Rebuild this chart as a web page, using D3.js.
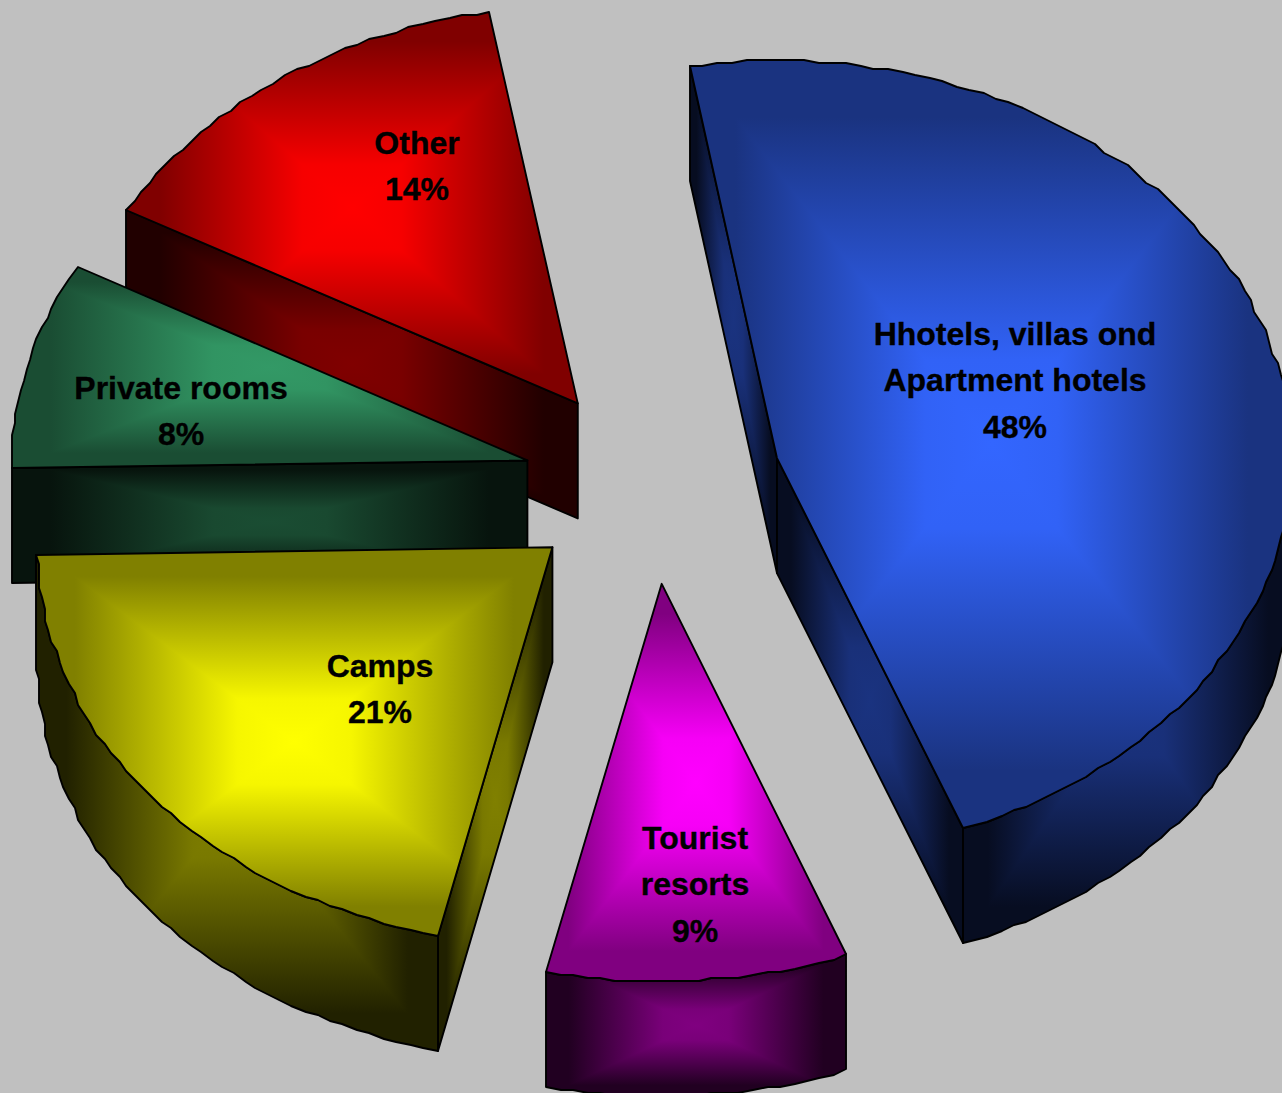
<!DOCTYPE html>
<html>
<head>
<meta charset="utf-8">
<script src="https://cdnjs.cloudflare.com/ajax/libs/d3/7.8.5/d3.min.js"></script>
<style>
  html, body { margin: 0; padding: 0; background: #c0c0c0; overflow: hidden; }
  svg { display: block; }
  text { font-family: "Liberation Sans", Arial, sans-serif; font-weight: bold; font-size: 32px; fill: #000; stroke: #000; stroke-width: 0.35px; text-anchor: middle; }
</style>
</head>
<body>
<script>
// Chart data
var sliceNames = [["Hhotels, villas ond", "Apartment hotels"], ["Tourist", "resorts"], ["Camps"], ["Private rooms"], ["Other"]];
var slicePercents = [48, 9, 21, 8, 14];
// the drawn wedges are not quite the printed percents, so the sweep is measured in degrees
var sliceSweeps = [168.8, 33.9, 76.1, 29.9, 51.3];
var sliceColors = ["#3366ff", "#ff00ff", "#ffff00", "#339966", "#ff0000"];

// Define SVG area dimensions
var svgWidth = 1282;
var svgHeight = 1093;

// Pie geometry
var center = { x: 652.6, y: 484.5 };
var radiusX = 515;
var radiusY = 397.5;
var depth = 115;
var explode = 129;
var startDeg = -9.8;
var jag = 3; // the original outline is snapped to a coarse pixel grid

// Label centres and first baselines
var labelSpots = [[1015, 345], [695, 849], [380, 677], [181, 399], [417, 154]];
var lineStep = 46.3;

// back to front
var drawOrder = [0, 1, 4, 3, 2];

var svg = d3.select("body")
  .append("svg")
  .attr("width", svgWidth)
  .attr("height", svgHeight);

svg.append("rect")
  .attr("width", svgWidth)
  .attr("height", svgHeight)
  .attr("fill", "#c0c0c0");

var defs = svg.append("defs");

var pie = d3.pie()
  .sort(null)
  .startAngle(startDeg * Math.PI / 180)
  .endAngle((startDeg + 360) * Math.PI / 180)
  .value(d => d);

var slices = pie(sliceSweeps);

var xScale = d3.scaleLinear().domain([-1, 1]).range([-radiusX, radiusX]);
var yScale = d3.scaleLinear().domain([-1, 1]).range([-radiusY, radiusY]);

var line = d3.line();

function apexOf(s) {
  var mid = (s.startAngle + s.endAngle) / 2;
  return [
    center.x + xScale(Math.sin(mid)) * explode / radiusX,
    center.y + yScale(-Math.cos(mid)) * explode / radiusX
  ];
}

function snap(p) {
  return [Math.round(p[0] / jag) * jag, Math.round(p[1] / jag) * jag];
}

// angles along the rim of a slice
function rimAngles(s) {
  var n = Math.max(2, Math.ceil((s.endAngle - s.startAngle) / (1.6 * Math.PI / 180)));
  return d3.range(n + 1).map(i => s.startAngle + (s.endAngle - s.startAngle) * i / n);
}

function rimPoint(apex, a) {
  return snap([apex[0] + xScale(Math.sin(a)), apex[1] + yScale(-Math.cos(a))]);
}

function down(pts) {
  return pts.map(p => [p[0], p[1] + depth]);
}

var gradId = 0;

// the ramp has a soft peak at the middle and stays flat near the box edge
function addGradient(id, from, to, inner, outer) {
  var grad = defs.append("linearGradient")
    .attr("id", id)
    .attr("gradientUnits", "userSpaceOnUse")
    .attr("x1", from[0]).attr("y1", from[1])
    .attr("x2", to[0]).attr("y2", to[1]);
  grad.append("stop").attr("offset", 0).attr("stop-color", inner);
  grad.append("stop").attr("offset", 0.22).attr("stop-color", d3.interpolateRgb(inner, outer)(0.07));
  grad.append("stop").attr("offset", 0.85).attr("stop-color", outer);
}

// Rectangular "path" gradient: bright at the middle of the face's box, dark at the box edges.
// A vertical gradient fills the whole box, then the left and right wedges go over it.
function face(group, pts, inner, outer) {
  var x0 = d3.min(pts, p => p[0]), x1 = d3.max(pts, p => p[0]);
  var y0 = d3.min(pts, p => p[1]), y1 = d3.max(pts, p => p[1]);
  var cx = (x0 + x1) / 2, cy = (y0 + y1) / 2;
  var id = "f" + (gradId++);

  defs.append("clipPath").attr("id", id + "c")
    .append("path").attr("d", line(pts) + "Z");

  addGradient(id + "t", [cx, cy], [cx, y0], inner, outer);
  addGradient(id + "b", [cx, cy], [cx, y1], inner, outer);
  addGradient(id + "r", [cx, cy], [x1, cy], inner, outer);
  addGradient(id + "l", [cx, cy], [x0, cy], inner, outer);

  var g = group.append("g").attr("clip-path", `url(#${id}c)`);
  var parts = [
    { k: "t", tri: [[x0, y0], [x1, y0], [x1, cy], [x0, cy]] },
    { k: "b", tri: [[x0, cy], [x1, cy], [x1, y1], [x0, y1]] },
    { k: "r", tri: [[x1, y0], [x1, y1], [cx, cy]] },
    { k: "l", tri: [[x0, y1], [x0, y0], [cx, cy]] }
  ];
  parts.forEach(function (part) {
    g.append("path")
      .attr("d", line(part.tri) + "Z")
      .attr("fill", `url(#${id}${part.k})`)
      .attr("shape-rendering", "crispEdges");
  });

  group.append("path")
    .attr("d", line(pts) + "Z")
    .attr("fill", "none")
    .attr("stroke", "#000")
    .attr("stroke-width", 1.9)
    .attr("stroke-linejoin", "round");
}

function shade(color, k) {
  var c = d3.rgb(color);
  return d3.rgb(c.r * k, c.g * k, c.b * k).formatHex();
}

drawOrder.forEach(function (i) {
  var s = slices[i];
  var color = sliceColors[i];
  var apex = apexOf(s);
  var angles = rimAngles(s);
  var rim = angles.map(a => rimPoint(apex, a));
  var group = svg.append("g").attr("class", "slice");
  var wallIn = shade(color, 0.5);
  var wallOut = shade(color, 0.13);

  // flat walls along the two cut edges, only where they face the viewer
  var first = rim[0];
  var last = rim[rim.length - 1];
  if (first[0] < apex[0]) {
    face(group, [apex, first].concat(down([first, apex])), wallIn, wallOut);
  }
  if (last[0] > apex[0]) {
    face(group, [last, apex].concat(down([apex, last])), wallIn, wallOut);
  }

  // curved wall: only the front half of the rim shows
  var front = rim.filter((p, k) => angles[k] >= Math.PI / 2 && angles[k] <= Math.PI * 3 / 2);
  if (front.length > 1) {
    face(group, front.concat(down(front).reverse()), wallIn, wallOut);
  }

  // top of the slice
  face(group, [apex].concat(rim), color, shade(color, 0.5));
});

// Labels go on last so no slice covers them
slices.forEach(function (s, i) {
  var lines = sliceNames[i].concat(slicePercents[i] + "%");
  svg.append("g").selectAll("text")
    .data(lines)
    .enter()
    .append("text")
    .attr("x", labelSpots[i][0])
    .attr("y", (d, k) => labelSpots[i][1] + k * lineStep)
    .text(d => d);
});
</script>
</body>
</html>
